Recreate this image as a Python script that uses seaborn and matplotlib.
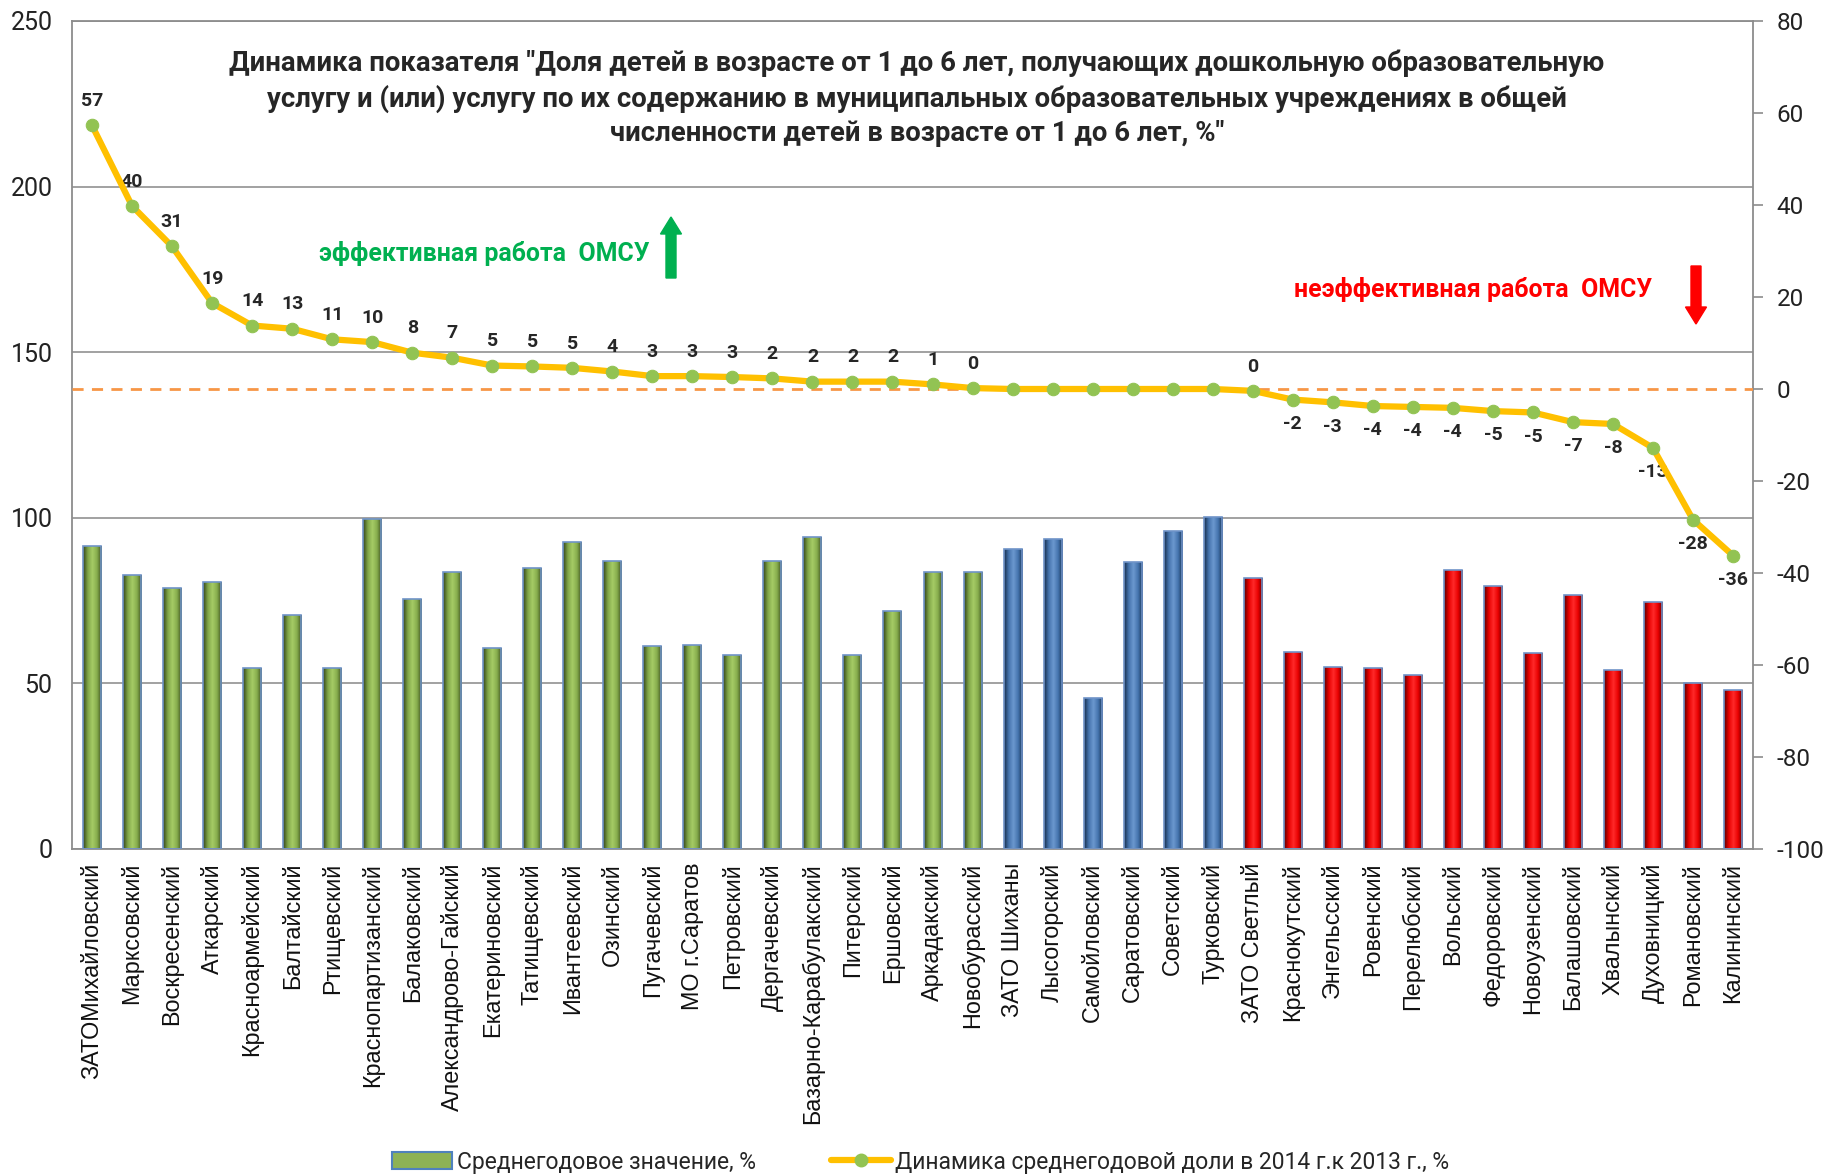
import numpy as np
import pandas as pd
import seaborn as sns
import matplotlib.pyplot as plt
from matplotlib.colors import LinearSegmentedColormap
from matplotlib.patches import Patch, FancyArrow
from matplotlib.lines import Line2D

# districts, sorted by the dynamics value
districts = [
    'ЗАТОМихайловский', 'Марксовский', 'Воскресенский', 'Аткарский', 'Красноармейский',
    'Балтайский', 'Ртищевский', 'Краснопартизанский', 'Балаковский', 'Александрово-Гайский',
    'Екатериновский', 'Татищевский', 'Ивантеевский', 'Озинский', 'Пугачевский',
    'МО г.Саратов', 'Петровский', 'Дергачевский', 'Базарно-Карабулакский', 'Питерский',
    'Ершовский', 'Аркадакский', 'Новобурасский', 'ЗАТО Шиханы', 'Лысогорский',
    'Самойловский', 'Саратовский', 'Советский', 'Турковский', 'ЗАТО Светлый',
    'Краснокутский', 'Энгельсский', 'Ровенский', 'Перелюбский', 'Вольский',
    'Федоровский', 'Новоузенский', 'Балашовский', 'Хвалынский', 'Духовницкий',
    'Романовский', 'Калининский'
]

# average annual share, % (left axis, bars)
avg_share = [
    91.6, 82.8, 78.9, 80.6, 54.6, 70.7, 54.6, 99.5, 75.6, 83.6,
    60.8, 84.7, 92.8, 87.0, 61.2, 61.7, 58.6, 87.0, 94.2, 58.6,
    71.8, 83.7, 83.7, 90.7, 93.5, 45.6, 86.6, 95.9, 100.3, 81.8,
    59.4, 55.0, 54.6, 52.4, 84.1, 79.5, 59.1, 76.6, 53.9, 74.5,
    50.2, 47.9
]

# dynamics 2014 vs 2013, % (right axis, line)
dynamics = [
    57.3, 39.8, 31.0, 18.7, 13.8, 13.1, 10.8, 10.2, 7.9, 6.8,
    5.1, 4.9, 4.6, 3.8, 2.8, 2.8, 2.6, 2.3, 1.6, 1.6,
    1.6, 1.0, 0.2, 0.0, 0.0, 0.0, 0.0, 0.0, 0.0, -0.4,
    -2.3, -2.9, -3.7, -3.9, -4.1, -4.8, -5.1, -7.2, -7.6, -12.8,
    -28.4, -36.2
]

left_ticks = [0, 50, 100, 150, 200, 250]
right_ticks = [-100, -80, -60, -40, -20, 0, 20, 40, 60, 80]

title = ('Динамика показателя "Доля детей в возрасте от 1 до 6 лет, получающих дошкольную образовательную\n'
         'услугу и (или) услугу по их содержанию в муниципальных образовательных учреждениях в общей\n'
         'численности детей в возрасте от 1 до 6 лет, %"')
good_text = 'эффективная работа  ОМСУ'
bad_text = 'неэффективная работа  ОМСУ'
bar_label = 'Среднегодовое значение, %'
line_label = 'Динамика среднегодовой доли в 2014 г.к 2013 г., %'

df = pd.DataFrame({'district': districts, 'share': avg_share, 'dyn': dynamics})
df['group'] = np.where(df['dyn'] > 0, 'up', np.where(df['dyn'] < 0, 'down', 'flat'))

palette = {'up': '#8DB255', 'flat': '#4F81BD', 'down': '#FF0000'}
shades = {
    'up': ['#33431A', '#7FA548', '#A6CC66', '#86AC4D', '#3A4C1C'],
    'flat': ['#172D4A', '#4574AE', '#6C98CF', '#4574AE', '#1A3352'],
    'down': ['#5A0000', '#E80000', '#FF2A2A', '#E80000', '#600000'],
}

sns.set_style('white')
plt.rcParams['font.family'] = ['Roboto', 'DejaVu Sans']

fig = plt.figure(figsize=(18.29, 11.75), dpi=100)
ax = fig.add_axes([72 / 1829, 1 - 849 / 1175, (1753 - 72) / 1829, (849 - 21) / 1175])

sns.barplot(data=df, x='district', y='share', hue='group', palette=palette,
            width=0.45, legend=False, ax=ax, saturation=1, errorbar=None)

# cylinder-like shading on every bar
grad = np.linspace(0, 1, 64).reshape(1, -1)
for p in list(ax.patches):
    x0, w, h = p.get_x(), p.get_width(), p.get_height()
    if h <= 0:
        continue
    grp = df['group'][round(x0 + w / 2)]
    cm = LinearSegmentedColormap.from_list('c', shades[grp])
    im = ax.imshow(grad, extent=[x0, x0 + w, 0, h], cmap=cm, aspect='auto',
                   zorder=2, interpolation='bilinear')
    im.set_clip_path(p)
    p.set_facecolor('none')
    p.set_edgecolor('#6F93C8')
    p.set_linewidth(1.2)
    p.set_zorder(3)

ax.set_xlim(-0.5, len(districts) - 0.5)
ax.set_ylim(0, 250)
ax.set_yticks(left_ticks)
ax.set_yticklabels([str(t) for t in left_ticks], fontsize=18, color='#222222')
ax.tick_params(axis='y', length=0, pad=14)
ax.tick_params(axis='x', length=0, pad=10)
ax.set_xticks(range(len(districts)))
ax.set_xticklabels(districts, rotation=90, fontsize=16.8, family='Liberation Sans',
                   color='#111111')
ax.set_xlabel('')
ax.set_ylabel('')
ax.grid(axis='y', color='#9A9A9A', linewidth=1.3, zorder=0)
ax.set_axisbelow(True)
for s in ['left', 'right', 'top', 'bottom']:
    ax.spines[s].set_color('#8C8C8C')
    ax.spines[s].set_linewidth(1.3)

ax2 = ax.twinx()
ax2.axhline(0, color='#F79646', linestyle=(0, (4, 3)), linewidth=2.0, zorder=1)
sns.lineplot(x=np.arange(len(districts)), y=dynamics, ax=ax2, color='#FFC000',
             linewidth=4.5, marker='o', markersize=9, markerfacecolor='#92C353',
             markeredgecolor='#92C353', sort=False, zorder=4)
ax2.set_ylim(-100, 80)
ax2.set_yticks(right_ticks)
ax2.set_yticklabels([str(t) for t in right_ticks], fontsize=17.5, color='#222222')
ax2.tick_params(axis='y', length=7, width=1.2, color='#8C8C8C', pad=10)
ax2.set_ylabel('')
for s in ['left', 'right', 'top', 'bottom']:
    ax2.spines[s].set_visible(False)

# value labels on the line
for i, v in enumerate(dynamics):
    if v == 0:
        continue
    r = round(v)
    if r >= 0:
        ax2.annotate(str(r), (i, v), xytext=(0, 11), textcoords='offset points',
                     ha='center', va='bottom', fontsize=14, fontweight='bold')
    else:
        ax2.annotate(str(r), (i, v), xytext=(0, -11), textcoords='offset points',
                     ha='center', va='top', fontsize=14, fontweight='bold')

fig.text(917 / 1829, 1 - 98 / 1175, title, ha='center', va='center', fontsize=19.8,
         fontweight='bold', linespacing=1.35)
fig.text(484 / 1829, 1 - 253 / 1175, good_text, ha='center', va='center', fontsize=17.9,
         fontweight='bold', color='#00B050')
fig.text(1473 / 1829, 1 - 289 / 1175, bad_text, ha='center', va='center', fontsize=17.9,
         fontweight='bold', color='#FF0000')

fig.patches.append(FancyArrow(6.71, (1175 - 278) / 100, 0, 0.61, width=0.10,
                              head_width=0.21, head_length=0.17, length_includes_head=True,
                              color='#00B050', transform=fig.dpi_scale_trans))
fig.patches.append(FancyArrow(16.96, (1175 - 266) / 100, 0, -0.58, width=0.10,
                              head_width=0.21, head_length=0.17, length_includes_head=True,
                              color='#FF0000', transform=fig.dpi_scale_trans))

handles = [
    Patch(facecolor='#8DB255', edgecolor='#4F81BD', linewidth=1.5),
    Line2D([0], [0], color='#FFC000', linewidth=4.5, marker='o', markersize=9,
           markerfacecolor='#92C353', markeredgecolor='#92C353'),
]
fig.legend(handles, [bar_label, line_label], loc='center', bbox_to_anchor=(921 / 1829, 13 / 1175),
           ncol=2, frameon=False, fontsize=16.5, handlelength=2.6, columnspacing=3.3,
           handletextpad=0.2)

fig.savefig('out.png', dpi=100)
